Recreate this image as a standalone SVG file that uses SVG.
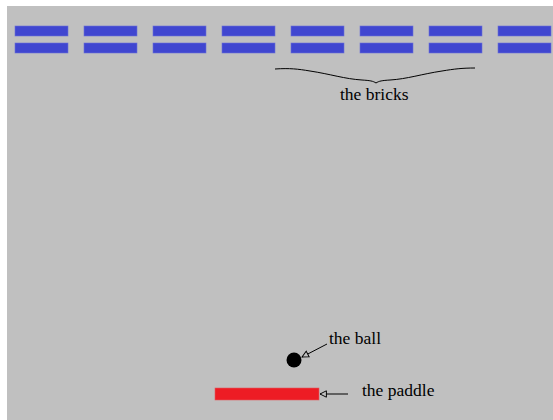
<svg xmlns="http://www.w3.org/2000/svg" width="553" height="420" viewBox="0 0 553 420">
<style>
.brick{fill:#4046D0;stroke:#6A6FD8;stroke-width:0.6}
.lbl{font-family:"Liberation Serif","Times New Roman",serif;font-size:17.5px;fill:#000}
.ln{stroke:#000;stroke-width:1;fill:none}
</style>
<defs>
<marker id="oa" viewBox="0 0 10 10" refX="9" refY="5" markerWidth="8" markerHeight="8" markerUnits="userSpaceOnUse" orient="auto">
<path d="M1,1 L9,5 L1,9 Z" fill="#C0C0C0" stroke="#000" stroke-width="1.2"/>
</marker>
</defs>
<rect x="7" y="6" width="546" height="414" fill="#C0C0C0"/>
<g id="bricks">
<rect class="brick" x="15" y="26" width="53" height="10"/><rect class="brick" x="15" y="43" width="53" height="10"/>
<rect class="brick" x="84" y="26" width="53" height="10"/><rect class="brick" x="84" y="43" width="53" height="10"/>
<rect class="brick" x="153" y="26" width="53" height="10"/><rect class="brick" x="153" y="43" width="53" height="10"/>
<rect class="brick" x="222" y="26" width="53" height="10"/><rect class="brick" x="222" y="43" width="53" height="10"/>
<rect class="brick" x="291" y="26" width="53" height="10"/><rect class="brick" x="291" y="43" width="53" height="10"/>
<rect class="brick" x="360" y="26" width="53" height="10"/><rect class="brick" x="360" y="43" width="53" height="10"/>
<rect class="brick" x="429" y="26" width="53" height="10"/><rect class="brick" x="429" y="43" width="53" height="10"/>
<rect class="brick" x="498" y="26" width="53" height="10"/><rect class="brick" x="498" y="43" width="53" height="10"/>
</g>
<g id="ball"><circle cx="294" cy="360" r="7.5" fill="#000"/></g>
<g id="paddle"><rect x="215" y="388" width="104" height="12" fill="#ED1C24" stroke="#E05A60" stroke-width="0.6"/></g>
<g id="connectors">
<path class="ln" d="M275,69 C290,68 298,69 310,71 C330,74 345,79 362,80 C370,80.5 373,81 376,83 C379,81 382,80.5 390,80 C407,79 422,74 442,71 C454,69 462,68 475,68"/>
<line class="ln" x1="327" y1="344" x2="302" y2="357" marker-end="url(#oa)"/>
<line class="ln" x1="348" y1="394" x2="320" y2="394" marker-end="url(#oa)"/>
</g>
<g id="labels">
<text class="lbl" x="340" y="100">the bricks</text>
<text class="lbl" x="329" y="344">the ball</text>
<text class="lbl" x="362" y="396">the paddle</text>
</g>
</svg>
